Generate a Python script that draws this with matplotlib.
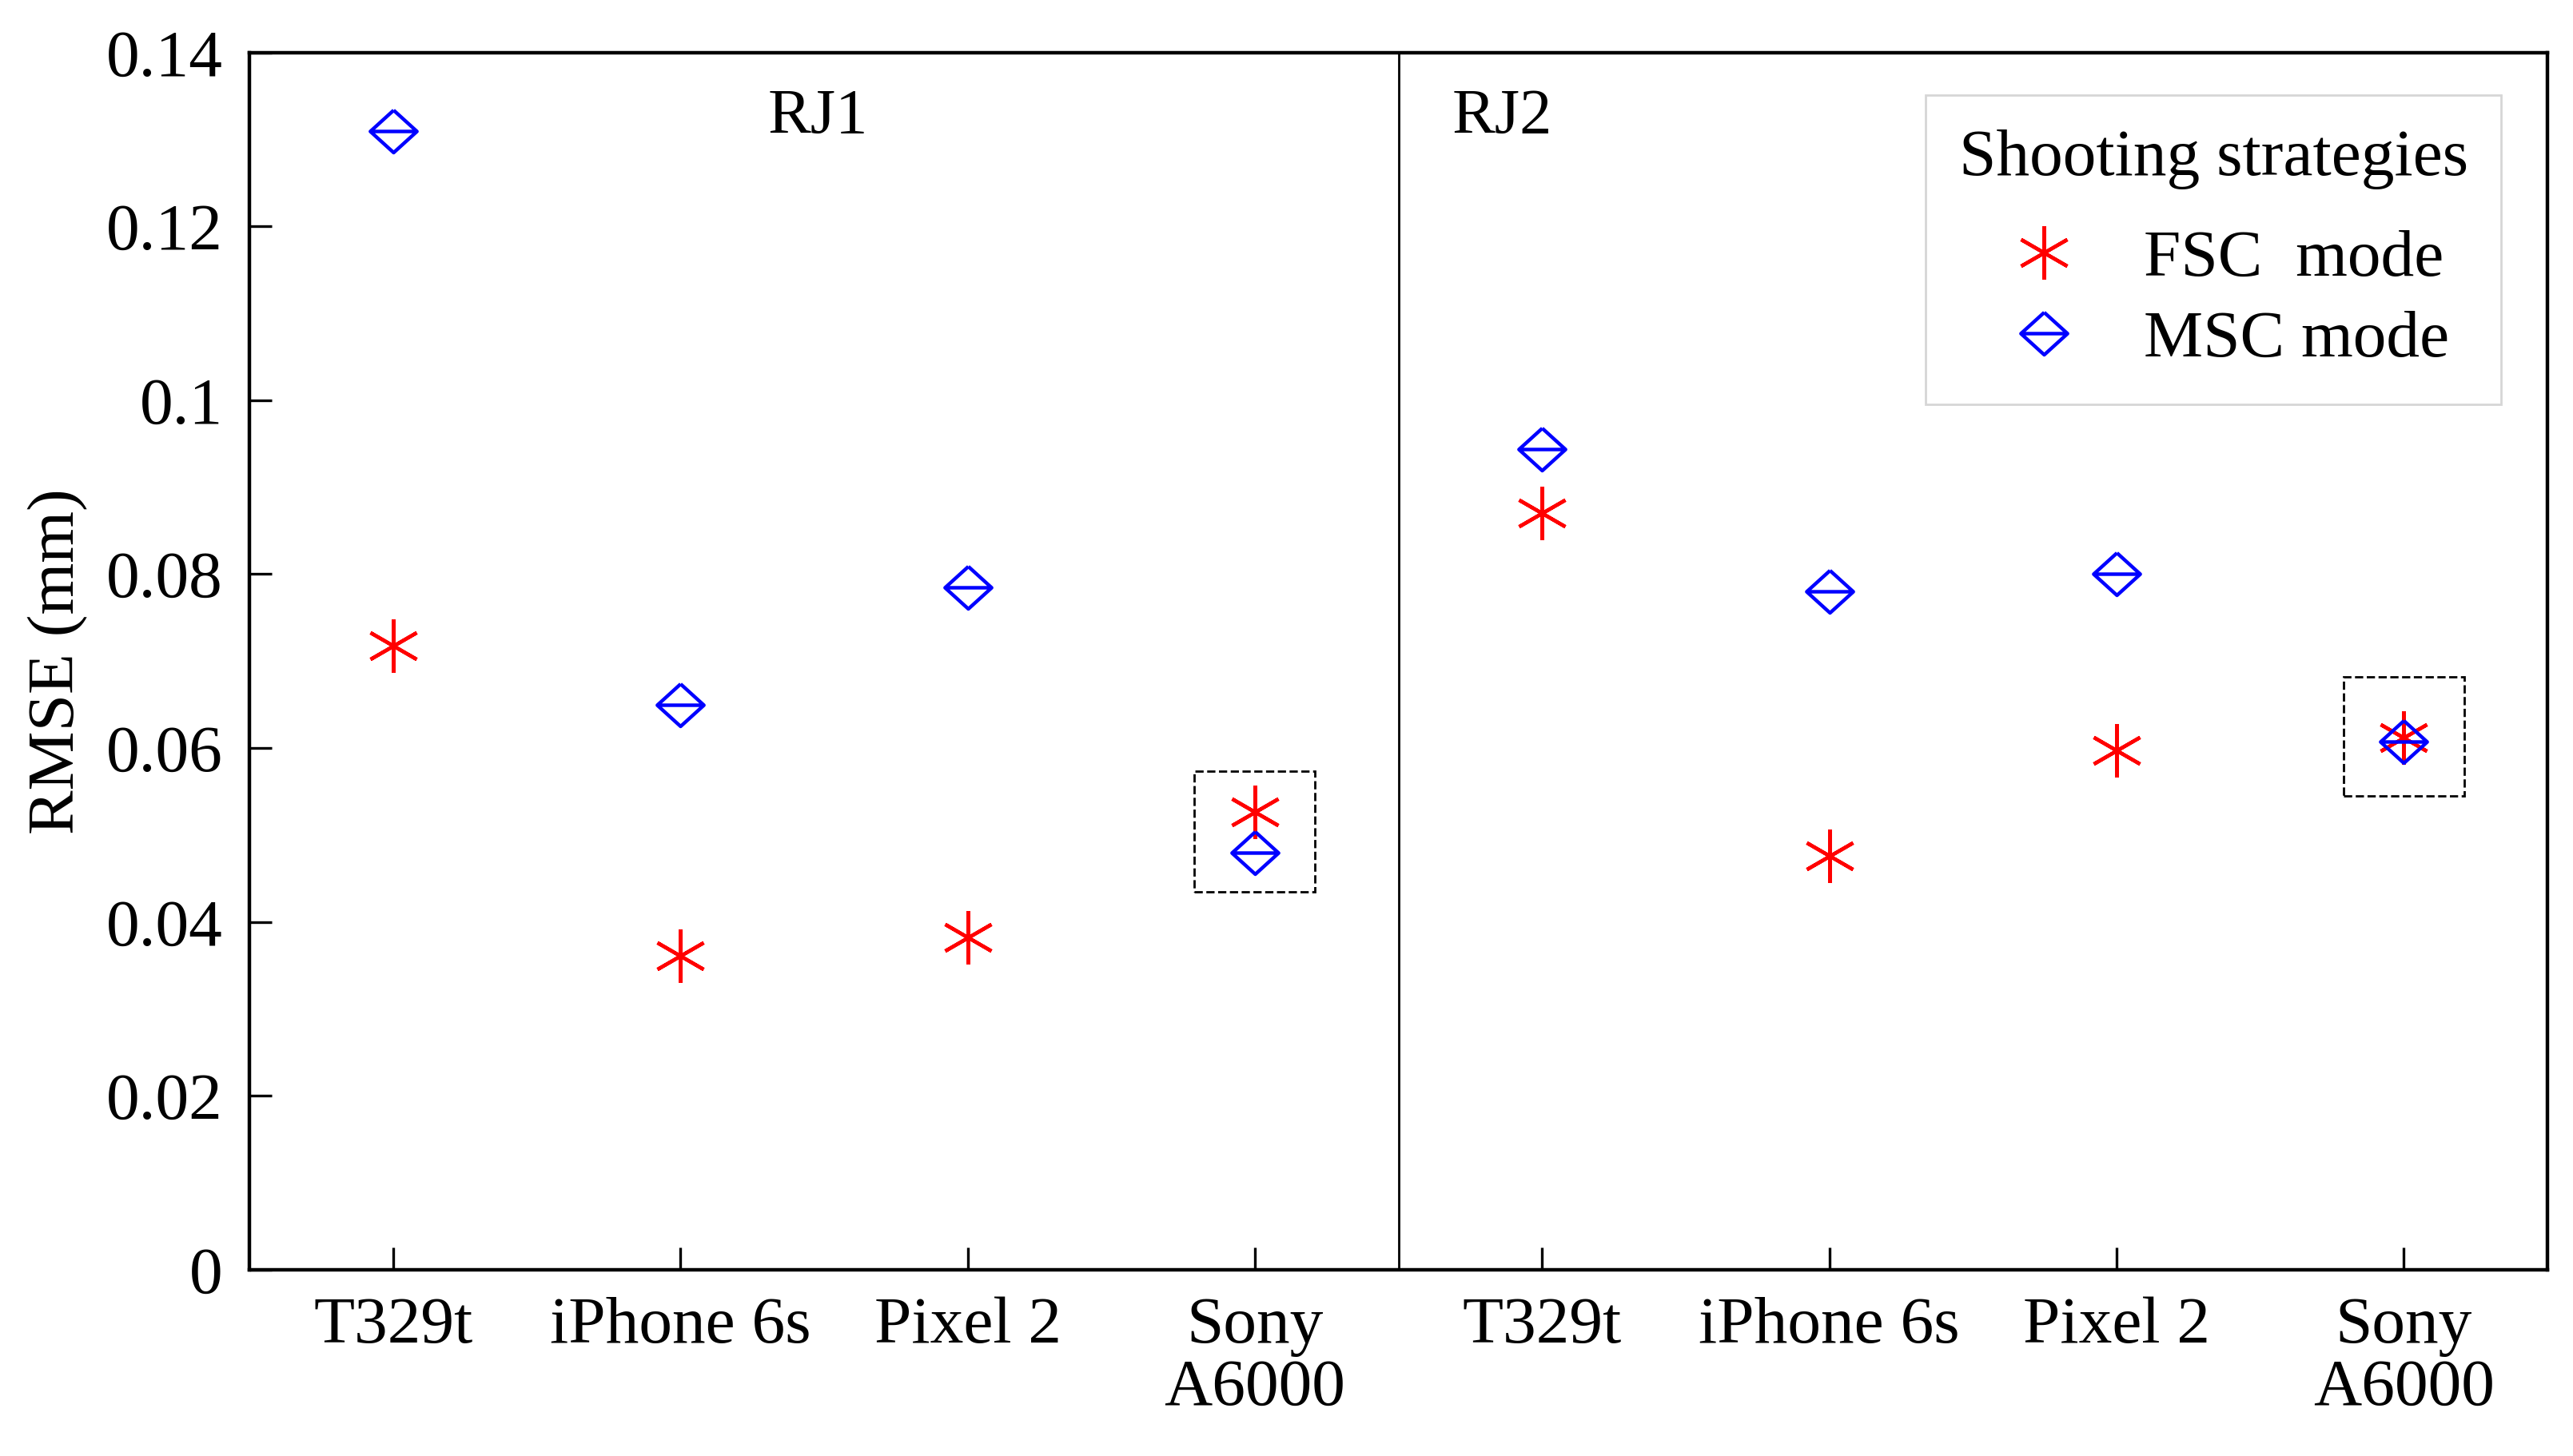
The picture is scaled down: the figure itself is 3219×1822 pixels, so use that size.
import matplotlib.pyplot as plt
from matplotlib.path import Path
from matplotlib.patches import Rectangle

plt.rcParams['font.family'] = ['Liberation Serif', 'DejaVu Serif']

# ---- data ----
cameras = ["T329t", "iPhone 6s", "Pixel 2", "Sony\nA6000"]
groups = ["RJ1", "RJ2"]
fsc_rj1 = [0.0718, 0.0361, 0.0382, 0.0526]
msc_rj1 = [0.1310, 0.0650, 0.0785, 0.0480]
fsc_rj2 = [0.0870, 0.0476, 0.0597, 0.0612]
msc_rj2 = [0.0944, 0.0780, 0.0800, 0.0607]

xs = list(range(1, 9))
fsc = fsc_rj1 + fsc_rj2
msc = msc_rj1 + msc_rj2

# diamond with horizontal bar marker
diamond = Path([(0, 1), (1.1, 0), (0, -1), (-1.1, 0), (0, 1), (-1.1, 0), (1.1, 0)],
               [Path.MOVETO, Path.LINETO, Path.LINETO, Path.LINETO, Path.LINETO,
                Path.MOVETO, Path.LINETO])

fig = plt.figure(figsize=(16.095, 9.11), dpi=200)
ax = fig.add_axes([0.097, 0.128, 0.893, 0.836])

ax.plot(xs, fsc, linestyle="none", marker=(6, 2, 0), markersize=24, color="red",
        markeredgewidth=1.6, label="FSC  mode")
ax.plot(xs, msc, linestyle="none", marker=diamond, markersize=21, color="blue",
        markerfacecolor="none", markeredgewidth=1.6, label="MSC mode")

ax.axvline(4.5, color="black", linewidth=1)
ax.add_patch(Rectangle((3.79, 0.0435), 0.42, 0.0138, fill=False, linestyle="--",
                       linewidth=1, edgecolor="black"))
ax.add_patch(Rectangle((7.79, 0.0545), 0.42, 0.0137, fill=False, linestyle="--",
                       linewidth=1, edgecolor="black"))

ax.text(2.48, 0.1325, groups[0], fontsize=29, ha="center", va="center")
ax.text(4.86, 0.1325, groups[1], fontsize=29, ha="center", va="center")

ax.set_xlim(0.5, 8.5)
ax.set_ylim(0, 0.14)
ax.set_xticks(xs)
ax.set_xticklabels(cameras * 2, fontsize=30, linespacing=1.05)
ax.set_yticks([0, 0.02, 0.04, 0.06, 0.08, 0.1, 0.12, 0.14])
ax.set_yticklabels(["0", "0.02", "0.04", "0.06", "0.08", "0.1", "0.12", "0.14"], fontsize=30)
ax.tick_params(direction="in", length=10, width=1.2, pad=12)
ax.tick_params(axis="x", top=False)
ax.set_ylabel("RMSE (mm)", fontsize=30, labelpad=8)
for s in ax.spines.values():
    s.set_linewidth(1.6)

leg = ax.legend(title="Shooting strategies", loc="upper right", fontsize=30,
                title_fontsize=30, fancybox=False, edgecolor="#cccccc",
                borderpad=0.5, handletextpad=0.5, labelspacing=0.3,
                bbox_to_anchor=(0.9945, 0.992))
leg.get_frame().set_linewidth(1)
leg._legend_box.sep = 18

fig.savefig("out.png", dpi=200)
